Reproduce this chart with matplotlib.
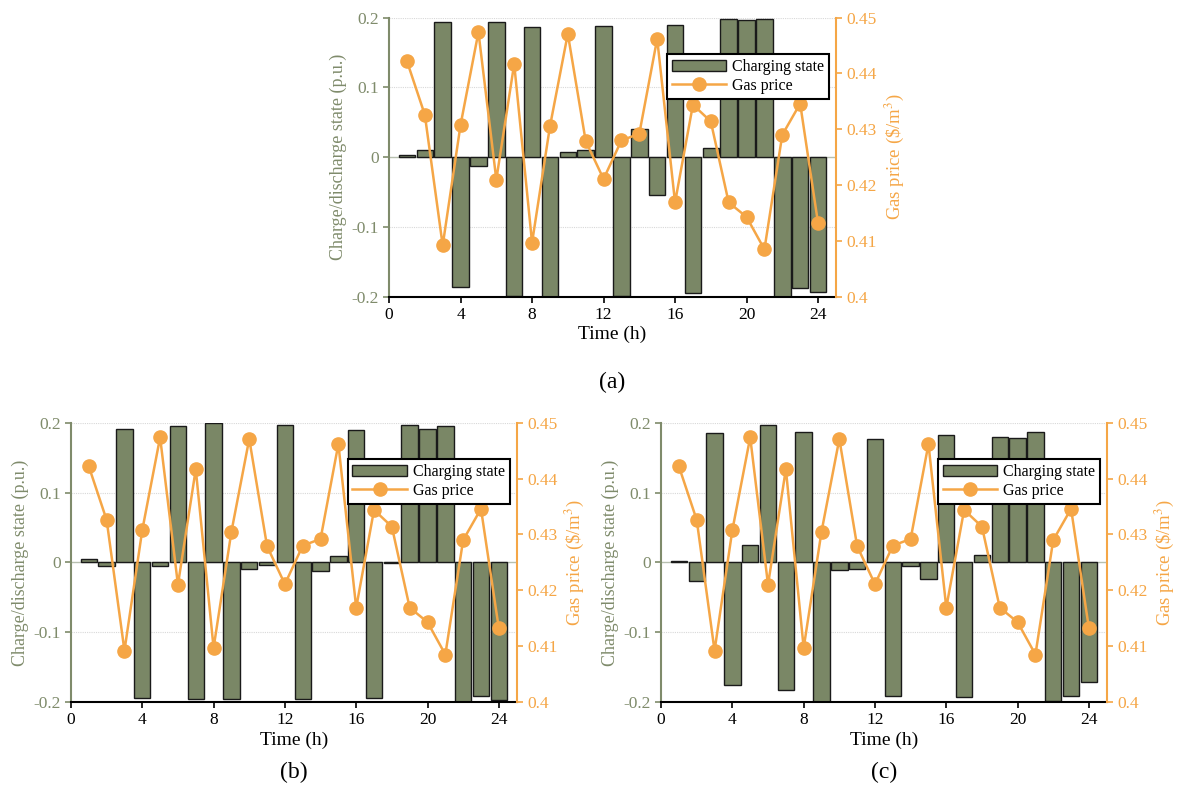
import numpy as np
import matplotlib
matplotlib.use('Agg')
import matplotlib.pyplot as plt
from matplotlib.ticker import FuncFormatter

plt.rcParams['font.family'] = ['Liberation Serif', 'DejaVu Serif']
plt.rcParams['mathtext.fontset'] = 'stix'

hours = np.arange(1, 25)

# charge/discharge state per case (p.u.)
state_a = [0.003, 0.010, 0.193, -0.186, -0.013, 0.194, -0.199, 0.186, -0.200, 0.007, 0.010, 0.188,
           -0.199, 0.041, -0.054, 0.189, -0.194, 0.013, 0.198, 0.196, 0.198, -0.200, -0.188, -0.193]
state_b = [0.005, -0.005, 0.191, -0.194, -0.005, 0.195, -0.196, 0.199, -0.196, -0.010, -0.004, 0.197,
           -0.196, -0.012, 0.009, 0.190, -0.194, -0.001, 0.197, 0.191, 0.196, -0.200, -0.192, -0.197]
state_c = [0.002, -0.027, 0.185, -0.176, 0.025, 0.197, -0.183, 0.187, -0.200, -0.011, -0.010, 0.177,
           -0.192, -0.005, -0.024, 0.183, -0.193, 0.010, 0.180, 0.178, 0.187, -0.198, -0.192, -0.172]

# gas price ($/m^3), same in all cases
gas_price = [0.4422, 0.4326, 0.4092, 0.4308, 0.4474, 0.4210, 0.4417, 0.4097, 0.4305, 0.4471, 0.4279, 0.4211,
             0.4280, 0.4292, 0.4462, 0.4169, 0.4344, 0.4314, 0.4169, 0.4143, 0.4085, 0.4290, 0.4346, 0.4132]

left_ticks = [-0.2, -0.1, 0, 0.1, 0.2]
right_ticks = [0.4, 0.41, 0.42, 0.43, 0.44, 0.45]
x_ticks = [0, 4, 8, 12, 16, 20, 24]

bar_color = '#7a8766'
left_color = '#7f8b6b'
orange = '#f5a646'


def fmt(v, pos):
    return '%g' % round(v, 3)


def draw_panel(ax, state, caption):
    ax.set_xlim(0, 25)
    ax.set_ylim(-0.2, 0.2)
    for t in [0.2, 0.1, -0.1]:
        ax.axhline(t, color='#d8d8d8', lw=0.8, ls=(0, (1, 1)), zorder=0)
    ax.axhline(0, color='#b7bfae', lw=1.0, zorder=0)
    bars = ax.bar(hours, state, width=0.92, color=bar_color, edgecolor='#1a1a1a', lw=1.0,
                  label='Charging state', zorder=2)
    ax.set_xticks(x_ticks)
    ax.set_yticks(left_ticks)
    ax.yaxis.set_major_formatter(FuncFormatter(fmt))
    ax.tick_params(axis='y', colors=left_color, labelsize=12.5, length=4, width=1.2)
    ax.tick_params(axis='x', colors='black', labelsize=12.5, length=4, width=1.2)
    ax.spines['left'].set_color(left_color)
    ax.spines['left'].set_linewidth(1.5)
    ax.spines['bottom'].set_linewidth(1.5)
    ax.spines['top'].set_visible(False)
    ax.spines['right'].set_visible(False)
    ax.set_xlabel('Time (h)', fontsize=14, labelpad=2)
    ax.set_ylabel('Charge/discharge state (p.u.)', fontsize=13, color=left_color, labelpad=3)

    ax2 = ax.twinx()
    ax2.set_ylim(0.4, 0.45)
    line, = ax2.plot(hours, gas_price, color=orange, lw=1.8, marker='o', markersize=9.5,
                     label='Gas price', zorder=3)
    ax2.set_yticks(right_ticks)
    ax2.yaxis.set_major_formatter(FuncFormatter(fmt))
    ax2.tick_params(axis='y', colors=orange, labelsize=12.5, length=4, width=1.2)
    ax2.spines['right'].set_color(orange)
    ax2.spines['right'].set_linewidth(1.5)
    for s in ['top', 'left', 'bottom']:
        ax2.spines[s].set_visible(False)
    ax2.set_ylabel(r'Gas price (\$/m$^3$)', fontsize=13.5, color=orange, labelpad=4)

    leg = ax2.legend([bars, line], ['Charging state', 'Gas price'], loc='upper right',
                     bbox_to_anchor=(0.985, 0.87), fontsize=11.5, frameon=True, fancybox=False,
                     framealpha=1, handlelength=3.4, borderpad=0.3, labelspacing=0.2,
                     handletextpad=0.4, borderaxespad=0)
    leg.get_frame().set_edgecolor('black')
    leg.get_frame().set_linewidth(1.5)
    leg.set_zorder(10)

    pos = ax.get_position()
    ax.figure.text(pos.x0 + pos.width / 2, caption[1], caption[0], ha='center', va='center', fontsize=17)


fig = plt.figure(figsize=(11.79, 8.0), dpi=100)
ax_a = fig.add_axes([0.330, 0.629, 0.379, 0.349])
ax_b = fig.add_axes([0.0602, 0.1225, 0.378, 0.349])
ax_c = fig.add_axes([0.5607, 0.1225, 0.378, 0.349])

draw_panel(ax_a, state_a, ('(a)', 1 - 382 / 800))
draw_panel(ax_b, state_b, ('(b)', 1 - 772 / 800))
draw_panel(ax_c, state_c, ('(c)', 1 - 772 / 800))

fig.savefig('out.png', dpi=100)
